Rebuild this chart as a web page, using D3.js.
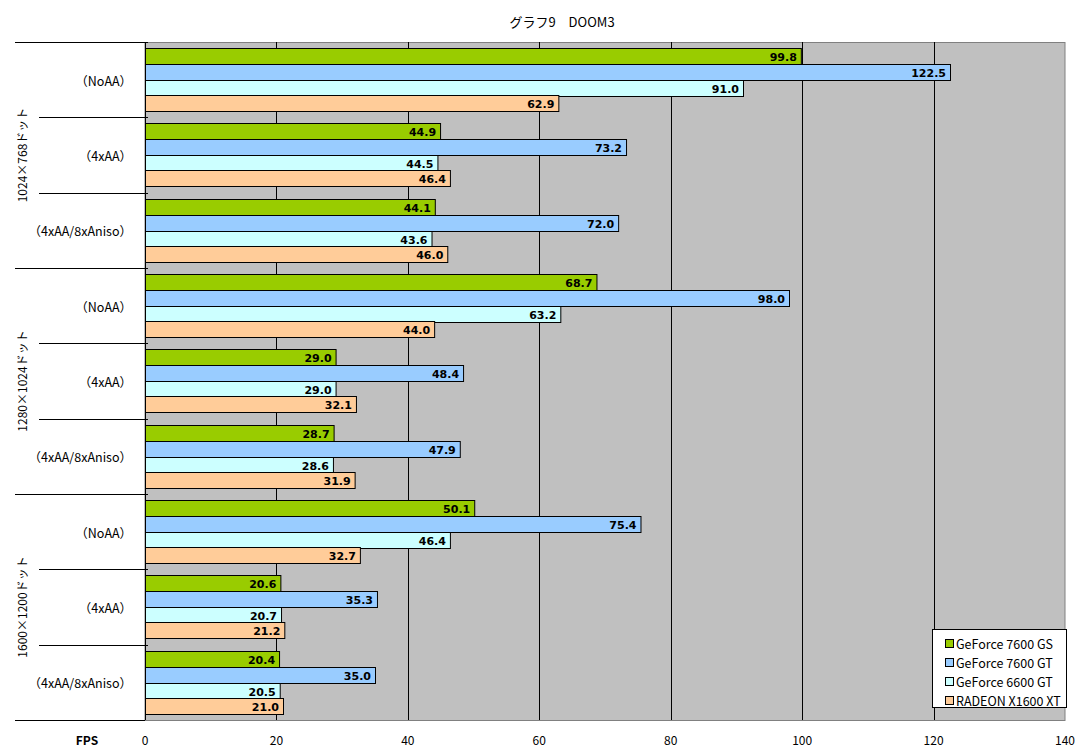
<!DOCTYPE html>
<html>
<head>
<meta charset="utf-8">
<script src="https://cdn.jsdelivr.net/npm/d3@7"></script>
<style>
  body { margin: 0; background: #fff; }
  text { font-family: "Noto Sans CJK JP", "DejaVu Sans", sans-serif; font-size: 12px; }
</style>
</head>
<body>
<svg width="1081" height="754"></svg>
<script>
var resolutions = ["1024×768ドット", "1280×1024ドット", "1600×1200ドット"];
var settings = ["（NoAA）", "（4xAA）", "（4xAA/8xAniso）"];
var series = ["GeForce 7600 GS", "GeForce 7600 GT", "GeForce 6600 GT", "RADEON X1600 XT"];
var colors = ["#99CC00", "#99CCFF", "#CCFFFF", "#FFCC99"];

// one entry per resolution/setting row, top to bottom
var gs7600 = [99.8, 44.9, 44.1, 68.7, 29.0, 28.7, 50.1, 20.6, 20.4];
var gt7600 = [122.5, 73.2, 72.0, 98.0, 48.4, 47.9, 75.4, 35.3, 35.0];
var gt6600 = [91.0, 44.5, 43.6, 63.2, 29.0, 28.6, 46.4, 20.7, 20.5];
var x1600 = [62.9, 46.4, 46.0, 44.0, 32.1, 31.9, 32.7, 21.2, 21.0];
var xTicks = [0, 20, 40, 60, 80, 100, 120, 140];

var values = [gs7600, gt7600, gt6600, x1600];

var groups = [];
resolutions.forEach(function(r, ri) {
  settings.forEach(function(s, si) {
    var i = ri * settings.length + si;
    groups.push({ id: i, res: r, setting: s, vals: values.map(function(v) { return v[i]; }) });
  });
});

var svg = d3.select("svg");
var pLeft = 145, pRight = 1065, pTop = 42, pBottom = 720;

var x = d3.scaleLinear().domain([0, 140]).range([pLeft, pRight]);
var y = d3.scaleBand().domain(groups.map(function(d) { return d.id; })).range([pTop, pBottom]);
var yInner = d3.scaleBand().domain(d3.range(series.length)).range([0, y.bandwidth()]).paddingOuter(0.41);

// title
svg.append("text")
  .attr("x", 562).attr("y", 27)
  .attr("text-anchor", "middle")
  .style("font-size", "13px")
  .text("グラフ9　DOOM3");

// plot background
svg.append("rect")
  .attr("x", pLeft).attr("y", pTop + 0.5)
  .attr("width", pRight - pLeft).attr("height", pBottom - pTop)
  .attr("fill", "#C0C0C0")
  .attr("stroke", "#808080");

// gridlines
svg.append("g").selectAll("line")
  .data(xTicks.slice(1, -1))
  .enter().append("line")
  .attr("x1", function(d) { return Math.round(x(d)) + 0.5; })
  .attr("x2", function(d) { return Math.round(x(d)) + 0.5; })
  .attr("y1", pTop).attr("y2", pBottom)
  .attr("stroke", "#000");

// bars
var g = svg.append("g").selectAll("g")
  .data(groups)
  .enter().append("g")
  .attr("transform", function(d) { return "translate(0," + Math.round(y(d.id)) + ")"; });

g.selectAll("rect")
  .data(function(d) { return d.vals; })
  .enter().append("rect")
  .attr("x", x(0) + 0.5)
  .attr("y", function(d, i) { return Math.round(yInner(i)) + 0.5; })
  .attr("width", function(d) { return x(d) - x(0); })
  .attr("height", Math.round(yInner.bandwidth()))
  .attr("fill", function(d, i) { return colors[i]; })
  .attr("stroke", "#000");

g.selectAll("text")
  .data(function(d) { return d.vals; })
  .enter().append("text")
  .attr("x", function(d) { return x(d) - 4; })
  .attr("y", function(d, i) { return Math.round(yInner(i)) + yInner.bandwidth() / 2 + 5; })
  .attr("text-anchor", "end")
  .style("font-weight", "bold")
  .style("font-family", "'DejaVu Sans', sans-serif")
  .style("font-size", "11px")
  .text(function(d) { return d.toFixed(1); });

// y axis line
svg.append("line")
  .attr("x1", pLeft + 0.5).attr("x2", pLeft + 0.5)
  .attr("y1", pTop).attr("y2", pBottom)
  .attr("stroke", "#000");

// category separators: long at resolution boundaries, short within
var bounds = d3.range(groups.length + 1);
svg.append("g").selectAll("line")
  .data(bounds)
  .enter().append("line")
  .attr("x1", function(d) { return d % settings.length === 0 ? 15 : 39; })
  .attr("x2", function(d) { return d === groups.length ? pLeft : pLeft + 3; })
  .attr("y1", function(d) { return Math.round(pTop + d * y.step()) + 0.5; })
  .attr("y2", function(d) { return Math.round(pTop + d * y.step()) + 0.5; })
  .attr("stroke", "#000");

// setting labels
svg.append("g").selectAll("text")
  .data(groups)
  .enter().append("text")
  .attr("x", 132)
  .attr("y", function(d) { return y(d.id) + y.bandwidth() / 2 + 6; })
  .attr("text-anchor", "end")
  .style("font-size", "12.5px")
  .text(function(d) { return d.setting; });

// resolution labels
svg.append("g").selectAll("text")
  .data(resolutions)
  .enter().append("text")
  .attr("transform", function(d, i) {
    var cy = pTop + (i * 3 + 1.5) * y.step();
    return "translate(27," + cy + ") rotate(-90)";
  })
  .attr("text-anchor", "middle")
  .style("font-size", "12px")
  .text(function(d) { return d; });

// x axis tick labels
svg.append("g").selectAll("text")
  .data(xTicks)
  .enter().append("text")
  .attr("x", function(d) { return x(d); })
  .attr("y", 745)
  .attr("text-anchor", "middle")
  .text(function(d) { return d; });

svg.append("text")
  .attr("x", 87).attr("y", 745)
  .attr("text-anchor", "middle")
  .style("font-weight", "bold")
  .text("FPS");

// legend
var legend = svg.append("g").attr("transform", "translate(932,629)");
legend.append("rect")
  .attr("x", 0.5).attr("y", 0.5)
  .attr("width", 134).attr("height", 78)
  .attr("fill", "#fff").attr("stroke", "#000");

var item = legend.selectAll("g.item")
  .data(series)
  .enter().append("g")
  .attr("class", "item")
  .attr("transform", function(d, i) { return "translate(0," + (10 + i * 19) + ")"; });

item.append("rect")
  .attr("x", 13.5).attr("y", 0.5)
  .attr("width", 8).attr("height", 8)
  .attr("fill", function(d, i) { return colors[i]; })
  .attr("stroke", "#000");

item.append("text")
  .attr("x", 24).attr("y", 9.5)
  .style("font-size", "12.5px")
  .text(function(d) { return d; });
</script>
</body>
</html>
